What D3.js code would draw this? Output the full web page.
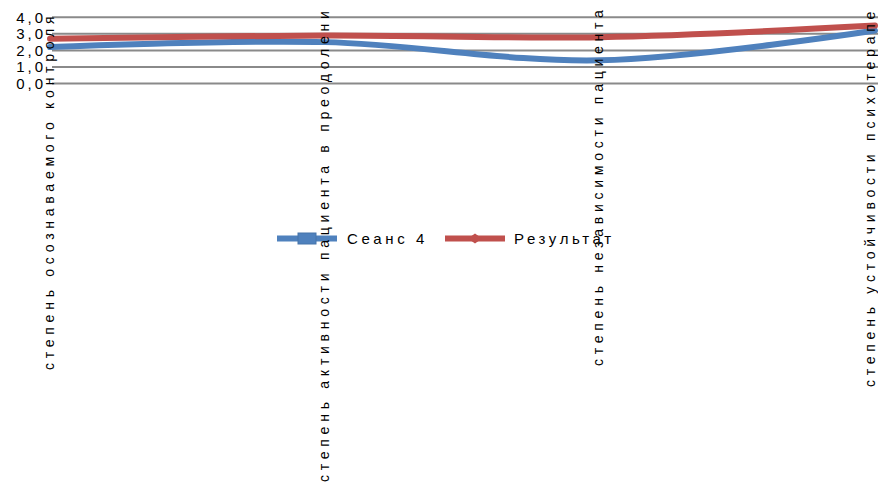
<!DOCTYPE html>
<html>
<head>
<meta charset="utf-8">
<script src="https://cdn.jsdelivr.net/npm/d3@7"></script>
<style>
  html, body { margin: 0; padding: 0; background: #fff; }
  svg { display: block; font-family: "Liberation Sans", Arial, sans-serif; }
</style>
</head>
<body>
<svg id="chart" width="878" height="486"></svg>
<script>
// Chart data
const categories = [
  "степень осознаваемого контроля",
  "степень активности пациента в преодолении",
  "степень независимости пациента",
  "степень устойчивости психотерапевтического альянса"
];
const seriesNames = ["Сеанс 4", "Результат"];
const session4 = [2.2, 2.5, 1.4, 3.2];
const result = [2.7, 2.9, 2.8, 3.5];
const yTicks = [0, 1, 2, 3, 4];
const yTickLabels = ["0,0", "1,0", "2,0", "3,0", "4,0"];

// Layout
const W = 878, H = 486;
const colors = ["#4F81BD", "#C0504D"];
const labelBase = [370, 482, 366, 387];   // where each rotated category label begins
const labelShift = [4, 4, 3, 0];          // baseline offset from the category position
const labelSpacing = 4.75;
const labelTopLimit = 10;

const svg = d3.select("#chart");

const x = d3.scalePoint().domain(categories).range([50, 875]).padding(0);
const y = d3.scaleLinear().domain([0, 4]).range([83.5, 17.3]);

// Horizontal gridlines
svg.append("g").selectAll("line").data(yTicks).join("line")
  .attr("x1", 52).attr("x2", W)
  .attr("y1", d => y(d)).attr("y2", d => y(d))
  .attr("stroke", "#8a8a8a").attr("stroke-width", 2);

// Y tick labels
svg.append("g").selectAll("text").data(yTicks).join("text")
  .attr("x", 46).attr("y", d => y(d)).attr("dy", "0.36em")
  .attr("text-anchor", "end")
  .attr("font-size", 15).attr("letter-spacing", 3)
  .attr("fill", "#000")
  .text((d, i) => yTickLabels[i]);

// Series lines
const series = [session4, result];
const line = d3.line()
  .x((d, i) => x(categories[i]))
  .y(d => y(d))
  .curve(d3.curveCatmullRom.alpha(0.5));

svg.append("g").selectAll("path").data(series).join("path")
  .attr("d", d => line(d))
  .attr("fill", "none")
  .attr("stroke", (d, i) => colors[i])
  .attr("stroke-width", 6)
  .attr("stroke-linecap", "round")
  .attr("stroke-linejoin", "round");

// Legend
const legend = svg.append("g");
const legendItems = [
  { x0: 277, x1: 337, tx: 347, marker: "square" },
  { x0: 445, x1: 505, tx: 514, marker: "diamond" }
];
const ly = 238.5;
legendItems.forEach((it, i) => {
  legend.append("line")
    .attr("x1", it.x0).attr("x2", it.x1).attr("y1", ly).attr("y2", ly)
    .attr("stroke", colors[i]).attr("stroke-width", 6);
  const cx = (it.x0 + it.x1) / 2;
  if (it.marker === "square") {
    legend.append("rect")
      .attr("x", cx - 9).attr("y", ly - 5.5).attr("width", 18).attr("height", 11)
      .attr("fill", colors[i]).attr("stroke", d3.color(colors[i]).darker(0.3)).attr("stroke-width", 1);
  } else {
    legend.append("path")
      .attr("d", `M${cx - 7},${ly} L${cx},${ly - 5} L${cx + 7},${ly} L${cx},${ly + 5} Z`)
      .attr("fill", colors[i]);
  }
  legend.append("text")
    .attr("x", it.tx).attr("y", ly).attr("dy", "0.36em")
    .attr("font-size", 15).attr("letter-spacing", 3.6)
    .attr("fill", "#000")
    .text(seriesNames[i]);
});

// Rotated category labels, cut to whole characters that fit below the top edge
const labels = svg.append("g");
categories.forEach((c, i) => {
  const bx = x(c) + labelShift[i];
  const by = labelBase[i];
  const t = labels.append("text")
    .attr("transform", `translate(${bx},${by}) rotate(-90)`)
    .attr("font-size", 14).attr("letter-spacing", labelSpacing)
    .attr("fill", "#000")
    .text(c);
  let s = c;
  while (s.length > 1 && by - t.node().getComputedTextLength() + labelSpacing < labelTopLimit) {
    s = s.slice(0, -1);
    t.text(s);
  }
});
</script>
</body>
</html>
